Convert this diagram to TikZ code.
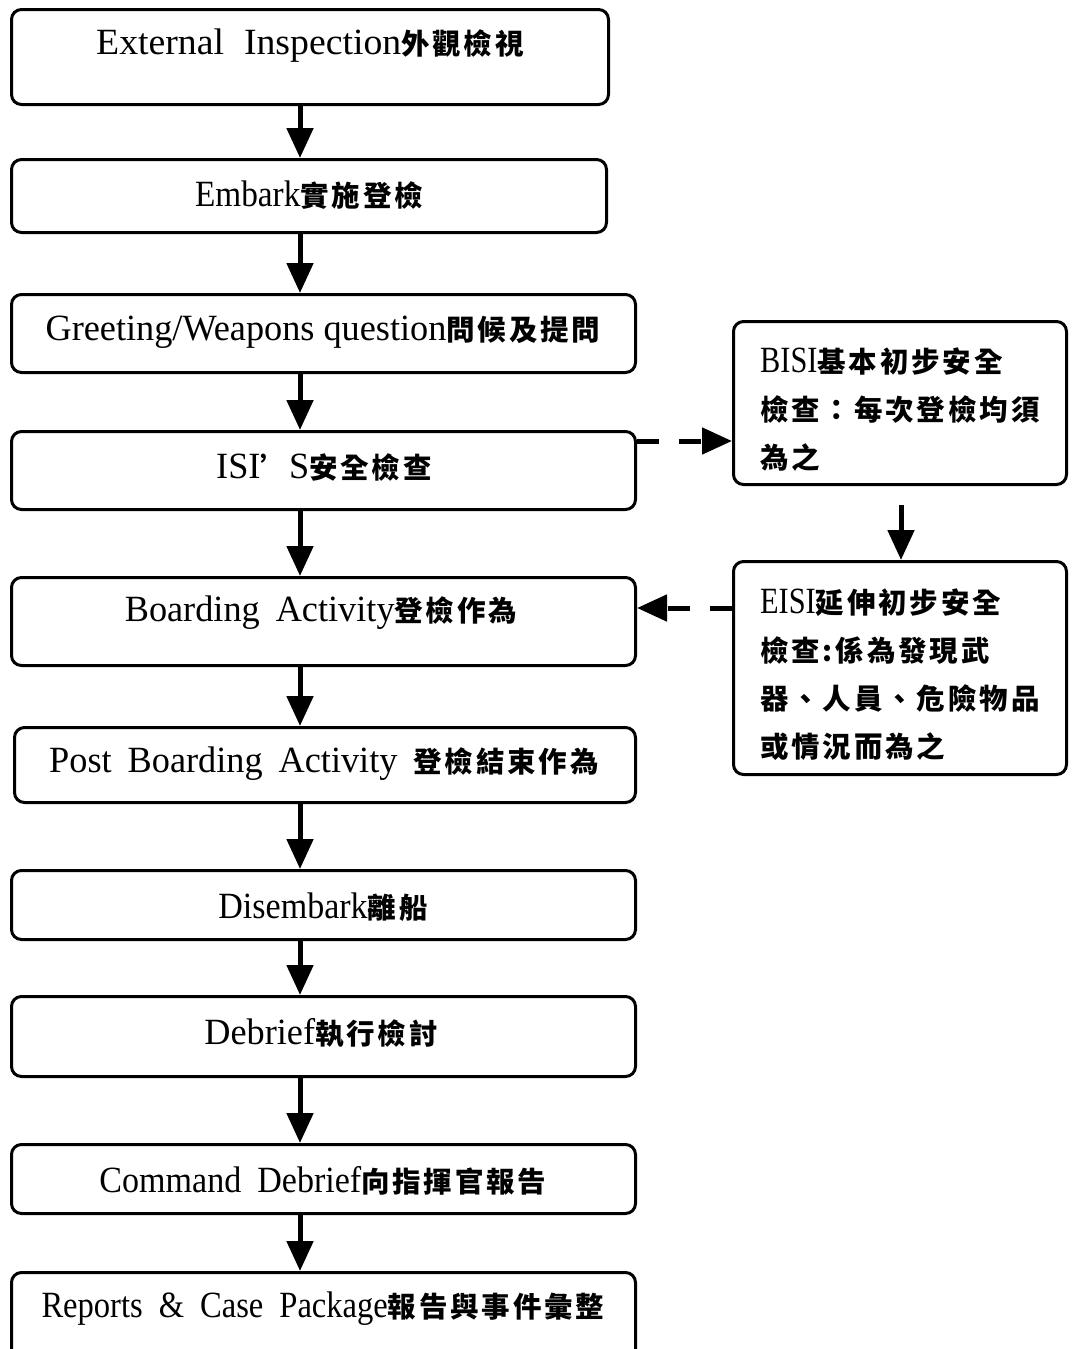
\documentclass[tikz,border=0pt]{standalone}
\usepackage{fontspec}
\setmainfont{Liberation Serif}[FakeStretch=0.98]
\newfontfamily\zhfont{Noto Sans CJK TC}[LetterSpace=10]
\usetikzlibrary{arrows.meta}
\newcommand\zhb[1]{{\zhfont\bfseries\fontsize{28.5}{48}\selectfont #1}}
\newcommand\lt[2]{{\fontspec{Liberation Serif}[FakeStretch=#1]#2}}
\newcommand\wsp[1][16pt]{\hspace{#1}}
\tikzset{
  box/.style={draw, line width=3pt, rounded corners=10pt, inner sep=0pt},
  txt/.style={inner sep=0pt, font=\fontsize{37}{48}\selectfont},
  side/.style={inner sep=0pt, align=left, anchor=west, font=\fontsize{37}{48}\selectfont},
  flow/.style={line width=5pt, -{Triangle[length=30pt,width=26pt]}},
  dflow/.style={flow, dash pattern=on 22pt off 20pt}
}
\begin{document}
\begin{tikzpicture}[x=1pt,y=-1pt]
\useasboundingbox (0,0) rectangle (1073,1349);
% left column boxes
\node[box, minimum width=597pt, minimum height=95pt] (b1) at (310,57) {};
\node[box, minimum width=595pt, minimum height=73pt] (b2) at (309,196) {};
\node[box, minimum width=624pt, minimum height=78pt] (b3) at (323.5,333.5) {};
\node[box, minimum width=624pt, minimum height=78pt] (b4) at (323.5,470.5) {};
\node[box, minimum width=624pt, minimum height=88pt] (b5) at (323.5,621.5) {};
\node[box, minimum width=621pt, minimum height=75pt] (b6) at (325,765) {};
\node[box, minimum width=624pt, minimum height=69pt] (b7) at (323.5,905) {};
\node[box, minimum width=624pt, minimum height=80pt] (b8) at (323.5,1036.5) {};
\node[box, minimum width=624pt, minimum height=69pt] (b9) at (323.5,1179) {};
\node[box, minimum width=624pt, minimum height=92pt] (b10) at (323.5,1318.5) {};
% right boxes
\node[box, minimum width=333pt, minimum height=163pt] (bisi) at (900,403) {};
\node[box, minimum width=333pt, minimum height=213pt] (eisi) at (900,668) {};
% texts
\node[txt] (t1) at (310,46) {\lt{1.02}{External\wsp[20pt]Inspection}\zhb{外觀檢視}};
\node[txt] (t2) at (309,195) {\lt{0.9}{Embark}\zhb{實施登檢}};
\node[txt] (t3) at (323,332) {Greeting/Weapons question\zhb{問候及提問}};
\node[txt] (t4) at (324,467) {ISI\zhb{’}S\zhb{安全檢查}};
\node[txt] (t5) at (321,613) {Boarding\wsp Activity\zhb{登檢作為}};
\node[txt] (t6) at (324,764) {Post\wsp Boarding\wsp Activity\wsp\zhb{登檢結束作為}};
\node[txt] (t7) at (323,907) {\lt{0.92}{Disembark}\zhb{離船}};
\node[txt] (t8) at (321,1033) {Debrief\zhb{執行檢討}};
\node[txt] (t9) at (323,1181) {\lt{0.92}{Command\wsp Debrief}\zhb{向指揮官報告}};
\node[txt] (t10) at (323,1309) {\lt{0.88}{Reports\wsp\&\wsp Case\wsp Package}\zhb{報告與事件彙整}};
\node[side] (ts1) at (760,409.5) {\lt{0.82}{BISI}\zhb{基本初步安全}\\\zhb{檢查：每次登檢均須}\\\zhb{為之}};
\node[side] (ts2) at (760,674.5) {\lt{0.82}{EISI}\zhb{延伸初步安全}\\\zhb{檢查:係為發現武}\\\zhb{器、人員、危險物品}\\\zhb{或情況而為之}};
% connectors
\coordinate (ax) at (300,0);
\coordinate (bs) at (901,505);
\coordinate (d1) at (0,441);
\coordinate (d2) at (0,608);
\draw[flow] (b1.south -| ax) -- (b2.north -| ax);
\draw[flow] (b2.south -| ax) -- (b3.north -| ax);
\draw[flow] (b3.south -| ax) -- (b4.north -| ax);
\draw[flow] (b4.south -| ax) -- (b5.north -| ax);
\draw[flow] (b5.south -| ax) -- (b6.north -| ax);
\draw[flow] (b6.south -| ax) -- (b7.north -| ax);
\draw[flow] (b7.south -| ax) -- (b8.north -| ax);
\draw[flow] (b8.south -| ax) -- (b9.north -| ax);
\draw[flow] (b9.south -| ax) -- (b10.north -| ax);
\draw[flow] (bs) -- (eisi.north -| bs);
\draw[dflow] (b4.east |- d1) -- (bisi.west |- d1);
\draw[dflow] (eisi.west |- d2) -- (b5.east |- d2);
\end{tikzpicture}
\end{document}
